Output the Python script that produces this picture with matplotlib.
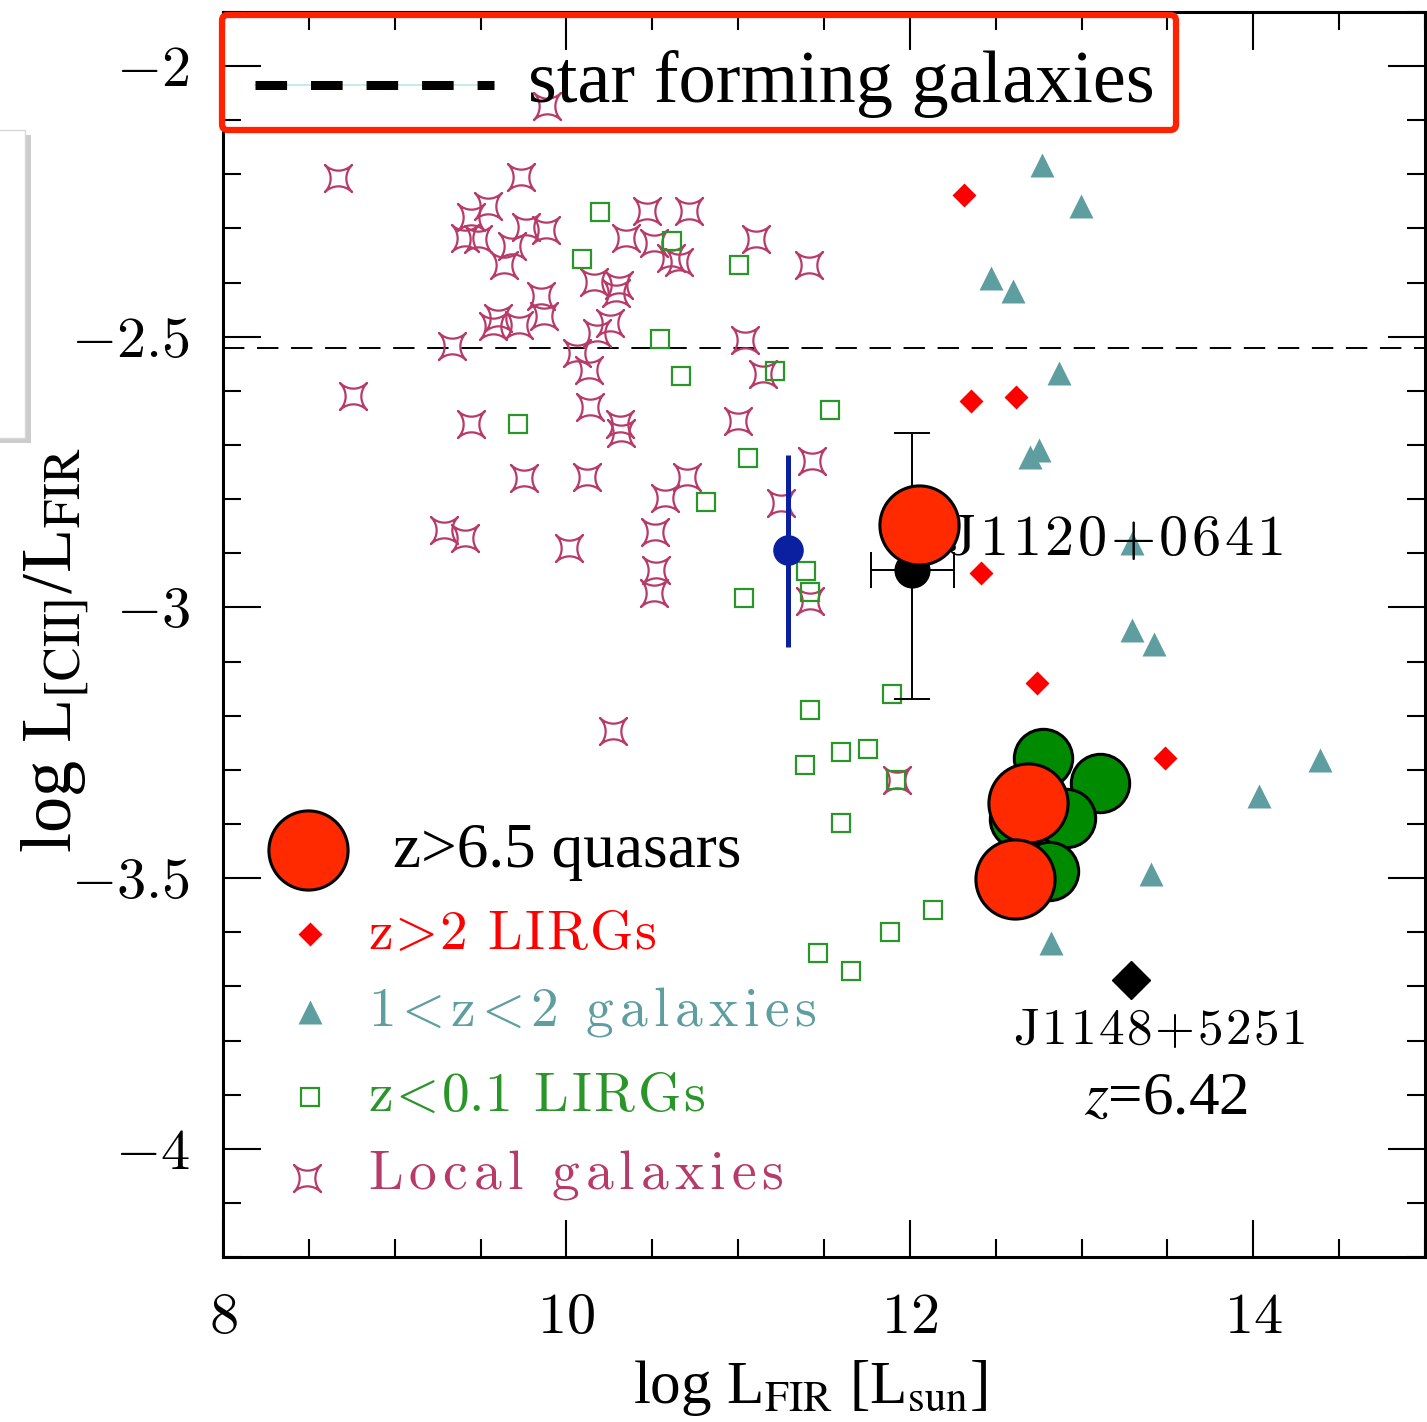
import numpy as np
import matplotlib
matplotlib.use('Agg')
import matplotlib.pyplot as plt
from matplotlib.path import Path
from matplotlib.patches import FancyBboxPatch, Rectangle
from matplotlib.lines import Line2D
from matplotlib.ticker import MultipleLocator, FuncFormatter

plt.rcParams['mathtext.fontset'] = 'cm'
plt.rcParams['font.family'] = ['Liberation Serif', 'DejaVu Serif']

# ---- data: log L_FIR [L_sun] vs log L[CII]/L_FIR ----
# local galaxies
local_x = [9.884, 8.669, 9.738, 9.541, 9.442, 10.471, 10.715, 9.762, 9.878, 9.407,
           9.483, 9.680, 10.349, 10.512, 11.105, 9.634, 10.610, 10.657, 10.163, 10.308,
           10.291, 11.413, 9.849, 9.872, 9.599, 9.570, 9.721, 10.256, 10.180, 9.331,
           11.041, 10.064, 10.134, 11.145, 8.756, 9.442, 10.140, 10.314, 10.320, 11.000,
           9.750, 10.122, 10.703, 10.576, 11.430, 11.250, 9.285, 9.407, 10.012, 10.517,
           10.523, 10.512, 11.419, 10.273, 11.924]
local_y = [-2.074, -2.206, -2.204, -2.259, -2.278, -2.267, -2.267, -2.298, -2.302, -2.317,
           -2.320, -2.333, -2.317, -2.326, -2.320, -2.367, -2.354, -2.361, -2.398, -2.404,
           -2.419, -2.367, -2.424, -2.461, -2.465, -2.481, -2.478, -2.474, -2.493, -2.517,
           -2.506, -2.530, -2.561, -2.569, -2.609, -2.661, -2.630, -2.661, -2.678, -2.656,
           -2.761, -2.759, -2.759, -2.798, -2.730, -2.807, -2.857, -2.872, -2.891, -2.861,
           -2.931, -2.974, -2.989, -3.228, -3.319]

# z<0.1 LIRGs
lirg_x = [10.198, 10.093, 10.616, 11.006, 10.547, 10.669, 11.215, 9.715, 11.535, 11.058,
          10.814, 11.395, 11.419, 11.035, 11.895, 11.419, 11.599, 11.756, 11.390, 11.919,
          11.599, 12.134, 11.884, 11.465, 11.657]
lirg_y = [-2.270, -2.357, -2.324, -2.367, -2.504, -2.572, -2.563, -2.661, -2.635, -2.724,
          -2.806, -2.933, -2.972, -2.983, -3.159, -3.189, -3.267, -3.261, -3.291, -3.319,
          -3.398, -3.559, -3.600, -3.639, -3.672]

# 1<z<2 galaxies
midz_x = [12.767, 12.994, 12.471, 12.599, 12.866, 12.750, 12.698, 13.291, 13.291, 13.419,
          14.390, 14.035, 13.407, 12.820]
midz_y = [-2.183, -2.259, -2.391, -2.415, -2.567, -2.709, -2.722, -2.881, -3.041, -3.067,
          -3.281, -3.348, -3.493, -3.620]

# z>2 LIRGs
hiz_x = [12.314, 12.355, 12.616, 12.413, 12.738, 13.483]
hiz_y = [-2.239, -2.619, -2.611, -2.937, -3.139, -3.278]

# z~6 quasars (green) and z>6.5 quasars (red)
qso6_x = [12.773, 13.110, 12.907, 12.634, 12.808]
qso6_y = [-3.278, -3.324, -3.389, -3.391, -3.487]
qso7_x = [12.052, 12.686, 12.610]
qso7_y = [-2.848, -3.361, -3.502]

# J1120+0641 measurement with errors
j1120_x, j1120_y = 12.012, -2.931
j1120_xerr = [[0.239], [0.244]]
j1120_yerr = [[0.238], [0.253]]

# stacked point (blue)
stack_x, stack_y = 11.29, -2.894
stack_yerr = [[0.180], [0.175]]

# J1148+5251, z=6.42
j1148_x, j1148_y = 13.285, -3.689

sf_level = -2.52

COL_LOCAL = '#B83A68'
COL_LIRG = '#2A962A'
COL_MIDZ = '#5F9EA0'
COL_HIZ = '#FF0000'
COL_QSO7 = '#FF2A00'
COL_QSO6 = '#008A00'
COL_STACK = '#0A20A0'


def star_path(p=0.56, n=60):
    """four-pointed star with concave sides, tips on the diagonals"""
    t = np.linspace(0, 2 * np.pi, 4 * n, endpoint=False)
    c, s = np.cos(t), np.sin(t)
    x = np.sign(c) * np.abs(c) ** (2 / p)
    y = np.sign(s) * np.abs(s) ** (2 / p)
    xr = (x - y) / np.sqrt(2)
    yr = (x + y) / np.sqrt(2)
    verts = np.column_stack([xr, yr])
    verts = np.vstack([verts, verts[:1]])
    codes = [Path.MOVETO] + [Path.LINETO] * (len(verts) - 2) + [Path.CLOSEPOLY]
    return Path(verts, codes)


STAR = star_path()


def cm_spaced(s, gap=0.1):
    """letter-spaced roman mathtext; relations and '+' kept tight"""
    out = ''
    for i, ch in enumerate(s):
        if ch == ' ':
            tok = r'\ '
        elif ch == '+':
            tok = '{+}'
        elif ch in '<>':
            # cancel mathtext's automatic relation spacing
            tok = r'\hspace{-0.2}' + ch + r'\hspace{-0.2}'
        else:
            tok = ch
        if i > 0 and ch != '.' and s[i - 1] != '.':
            out += r'\hspace{%g}' % gap
        out += tok
    return r'$\mathrm{' + out + '}$'


fig = plt.figure(figsize=(14.27, 14.22), dpi=100)
ax = fig.add_axes([0.1563, 0.1160, 0.8423, 0.8756])
ax.set_xlim(8, 15)
ax.set_ylim(-4.2, -1.9)

ax.axhline(sf_level, color='black', lw=1.4, dashes=(11, 6.5), zorder=1)

star_kw = dict(marker=STAR, ms=19.5, mfc='none', mec=COL_LOCAL, mew=1.6, ls='none')
sq_kw = dict(marker='s', ms=13.5, mfc='none', mec=COL_LIRG, mew=1.6, ls='none')
tri_kw = dict(marker='^', ms=17, color=COL_MIDZ, mec='none', ls='none')
dia_kw = dict(marker='D', ms=12.2, color=COL_HIZ, mec='none', ls='none')
big_kw = dict(marker='o', ms=57, color=COL_QSO7, mec='black', mew=2.2, ls='none')

ax.plot(local_x, local_y, zorder=2, **star_kw)
ax.plot(lirg_x, lirg_y, zorder=3, **sq_kw)
ax.plot(midz_x, midz_y, zorder=3, **tri_kw)
ax.plot(hiz_x, hiz_y, zorder=3, **dia_kw)

ax.errorbar(stack_x, stack_y, yerr=stack_yerr, fmt='o', ms=21, color=COL_STACK,
            elinewidth=3.6, capsize=0, zorder=4)
ax.errorbar(j1120_x, j1120_y, xerr=j1120_xerr, yerr=j1120_yerr, fmt='o', ms=25,
            color='black', elinewidth=1.4, capsize=13, capthick=1.4, zorder=4)

ax.plot(qso6_x, qso6_y, marker='o', ms=42, color=COL_QSO6, mec='black', mew=2.2,
        ls='none', zorder=6)
ax.plot(qso7_x, qso7_y, zorder=7, **big_kw)

ax.plot(j1148_x, j1148_y, marker='D', ms=19, color='black', ls='none', zorder=5)

ax.text(12.209, -2.878, cm_spaced('J1120+0641', 0.068), fontsize=42, ha='left',
        va='center', zorder=5)
ax.text(13.453, -3.783, cm_spaced('J1148+5251', 0.056), fontsize=37, ha='center',
        va='center', zorder=5)
ax.text(13.494, -3.909, r'$z$=6.42', fontsize=44, ha='center', va='center',
        math_fontfamily='stix', zorder=5)

# lower-left key
keys = [
    (big_kw, 0.0707, 0.3269, 'z>6.5 quasars', 'black', 0.1414, 0.3253, None),
    (dia_kw, 0.0724, 0.2594, 'z>2 LIRGs', COL_HIZ, 0.1206, 0.2586, 0.04),
    (tri_kw, 0.0724, 0.1968, '1<z<2 galaxies', COL_MIDZ, 0.1206, 0.1968, 0.12),
    (sq_kw, 0.0724, 0.1285, 'z<0.1 LIRGs', COL_LIRG, 0.1206, 0.1285, 0.055),
    (star_kw, 0.0699, 0.0635, 'Local galaxies', COL_LOCAL, 0.1206, 0.0659, 0.125),
]
for kw, mx, my, label, col, tx, ty, gap in keys:
    ax.plot([mx], [my], transform=ax.transAxes, clip_on=False, zorder=8, **kw)
    if gap is None:
        ax.text(tx, ty, label, transform=ax.transAxes, fontsize=45.5, color=col,
                ha='left', va='center')
    else:
        ax.text(tx, ty, cm_spaced(label, gap), transform=ax.transAxes, fontsize=40,
                color=col, ha='left', va='center')

# axes styling
ax.xaxis.set_major_locator(MultipleLocator(2))
ax.xaxis.set_minor_locator(MultipleLocator(0.5))
ax.yaxis.set_major_locator(MultipleLocator(0.5))
ax.yaxis.set_minor_locator(MultipleLocator(0.1))
fmt = FuncFormatter(lambda v, pos: r'$%g$' % v)
ax.xaxis.set_major_formatter(fmt)
ax.yaxis.set_major_formatter(fmt)
ax.tick_params(which='both', direction='in', top=True, right=True, width=1.5)
ax.tick_params(which='major', length=27, labelsize=42)
ax.tick_params(axis='y', which='major', pad=24)
ax.tick_params(axis='x', which='major', pad=26)
ax.tick_params(which='minor', length=13)
for sp in ax.spines.values():
    sp.set_linewidth(2.2)

fig.text(810 / 1427, 1 - 1388 / 1422, r'log L$_{\rm FIR}$ [L$_{\rm sun}$]', fontsize=44,
         ha='center', va='center', math_fontfamily='stix')
fig.text(56 / 1427, 1 - 650 / 1422, r'log L$_{\rm [CII]}$/L$_{\rm FIR}$', fontsize=52,
         ha='center', va='center', rotation=90, math_fontfamily='stix')

# boxed key for the star-forming level
box = FancyBboxPatch((222 / 1427, 1 - 130 / 1422), (1176 - 222) / 1427, 115 / 1422,
                     boxstyle='round,pad=0,rounding_size=0.004', transform=fig.transFigure,
                     fc='none', ec='#FF2200', lw=4.5, zorder=10)
fig.add_artist(box)
fig.add_artist(Line2D([255 / 1427, 494 / 1427], [1 - 85 / 1422] * 2, transform=fig.transFigure,
                      color='#BFE6E6', lw=1.2, zorder=10))
fig.add_artist(Line2D([255 / 1427, 494 / 1427], [1 - 85 / 1422] * 2, transform=fig.transFigure,
                      color='black', lw=6.5, dashes=(3.5, 2.65), solid_capstyle='butt',
                      dash_capstyle='butt', zorder=11))
fig.text(528 / 1427, 1 - 84 / 1422, 'star forming galaxies', fontsize=53.5, ha='left',
         va='center', zorder=11)

# panel edge on the left
fig.add_artist(Rectangle((-0.01, 1 - 443 / 1422), 0.01 + 31 / 1427, 308 / 1422,
                         transform=fig.transFigure, fc='#9A9A9A', ec='none', alpha=0.5,
                         zorder=0))
fig.add_artist(Rectangle((-0.01, 1 - 438 / 1422), 0.01 + 25 / 1427, 308 / 1422,
                         transform=fig.transFigure, fc='white', ec='#D8D8D8', lw=1,
                         zorder=0))

fig.savefig('out.png', dpi=100, facecolor='white')
